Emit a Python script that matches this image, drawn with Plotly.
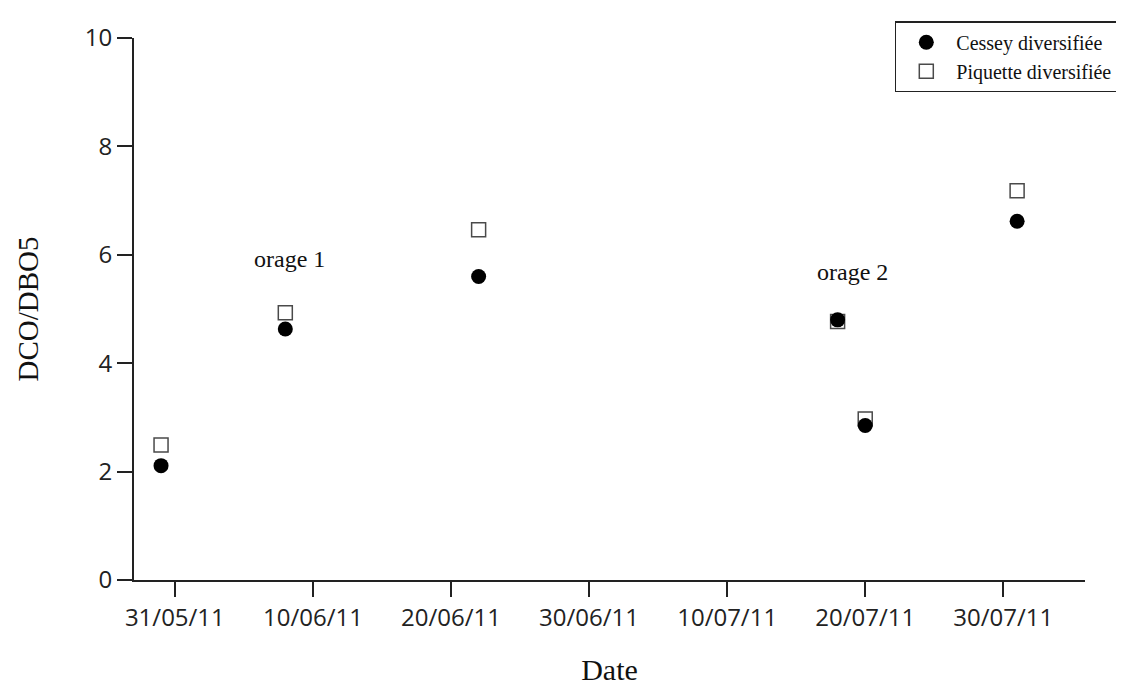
import plotly.graph_objects as go

dates = ["2011-05-30", "2011-06-08", "2011-06-22", "2011-07-18", "2011-07-20", "2011-07-31"]
cessey = [2.11, 4.63, 5.60, 4.80, 2.85, 6.62]
piquette = [2.49, 4.93, 6.46, 4.77, 2.97, 7.18]

tick_vals = ["2011-05-31", "2011-06-10", "2011-06-20", "2011-06-30",
             "2011-07-10", "2011-07-20", "2011-07-30"]
tick_text = ["31/05/11", "10/06/11", "20/06/11", "30/06/11",
             "10/07/11", "20/07/11", "30/07/11"]

notes = [("2011-06-08 07:00", 5.92, "orage 1"), ("2011-07-19 02:00", 5.68, "orage 2")]

fig = go.Figure()
fig.add_trace(go.Scatter(
    x=dates, y=piquette, mode="markers", name="Piquette diversifiée",
    marker=dict(symbol="square-open", size=14, color="#4a4a4a", line=dict(width=1.5)),
))
fig.add_trace(go.Scatter(
    x=dates, y=cessey, mode="markers", name="Cessey diversifiée",
    marker=dict(symbol="circle", size=15, color="black"),
))

for x, y, t in notes:
    fig.add_annotation(x=x, y=y, text=t, showarrow=False,
                       font=dict(family="Liberation Serif", size=24, color="#111"))

fig.update_layout(
    width=1124, height=684,
    paper_bgcolor="white", plot_bgcolor="white",
    margin=dict(l=126, r=47, t=30, b=112, autoexpand=False),
    showlegend=True,
    legend=dict(
        x=0.800, y=1.031, xanchor="left", yanchor="top",
        traceorder="reversed",
        bordercolor="#222", borderwidth=1.5, bgcolor="white",
        font=dict(family="Liberation Serif", size=20, color="#111"),
        itemwidth=50,
        tracegroupgap=0,
    ),
    xaxis=dict(
        type="date",
        range=["2011-05-28 01:00", "2011-08-04 22:00"],
        tickmode="array", tickvals=tick_vals, ticktext=tick_text,
        showline=True, linecolor="#222", linewidth=2,
        ticks="outside", ticklen=15, tickwidth=2, tickcolor="#222",
        showgrid=False, zeroline=False,
        tickfont=dict(family="Open Sans", size=24, color="#222"),
        title=dict(text="Date", font=dict(family="Liberation Serif", size=30, color="#111"),
                   standoff=27),
    ),
    yaxis=dict(
        range=[0, 10], tickvals=[0, 2, 4, 6, 8, 10],
        showline=True, linecolor="#222", linewidth=2,
        ticks="outside", ticklen=15, tickwidth=2, tickcolor="#222",
        showgrid=False, zeroline=False,
        tickfont=dict(family="Open Sans", size=24, color="#222"),
        title=dict(text="DCO/DBO5", font=dict(family="Liberation Serif", size=29, color="#111"),
                   standoff=38),
    ),
)

fig.write_html("out.html")
